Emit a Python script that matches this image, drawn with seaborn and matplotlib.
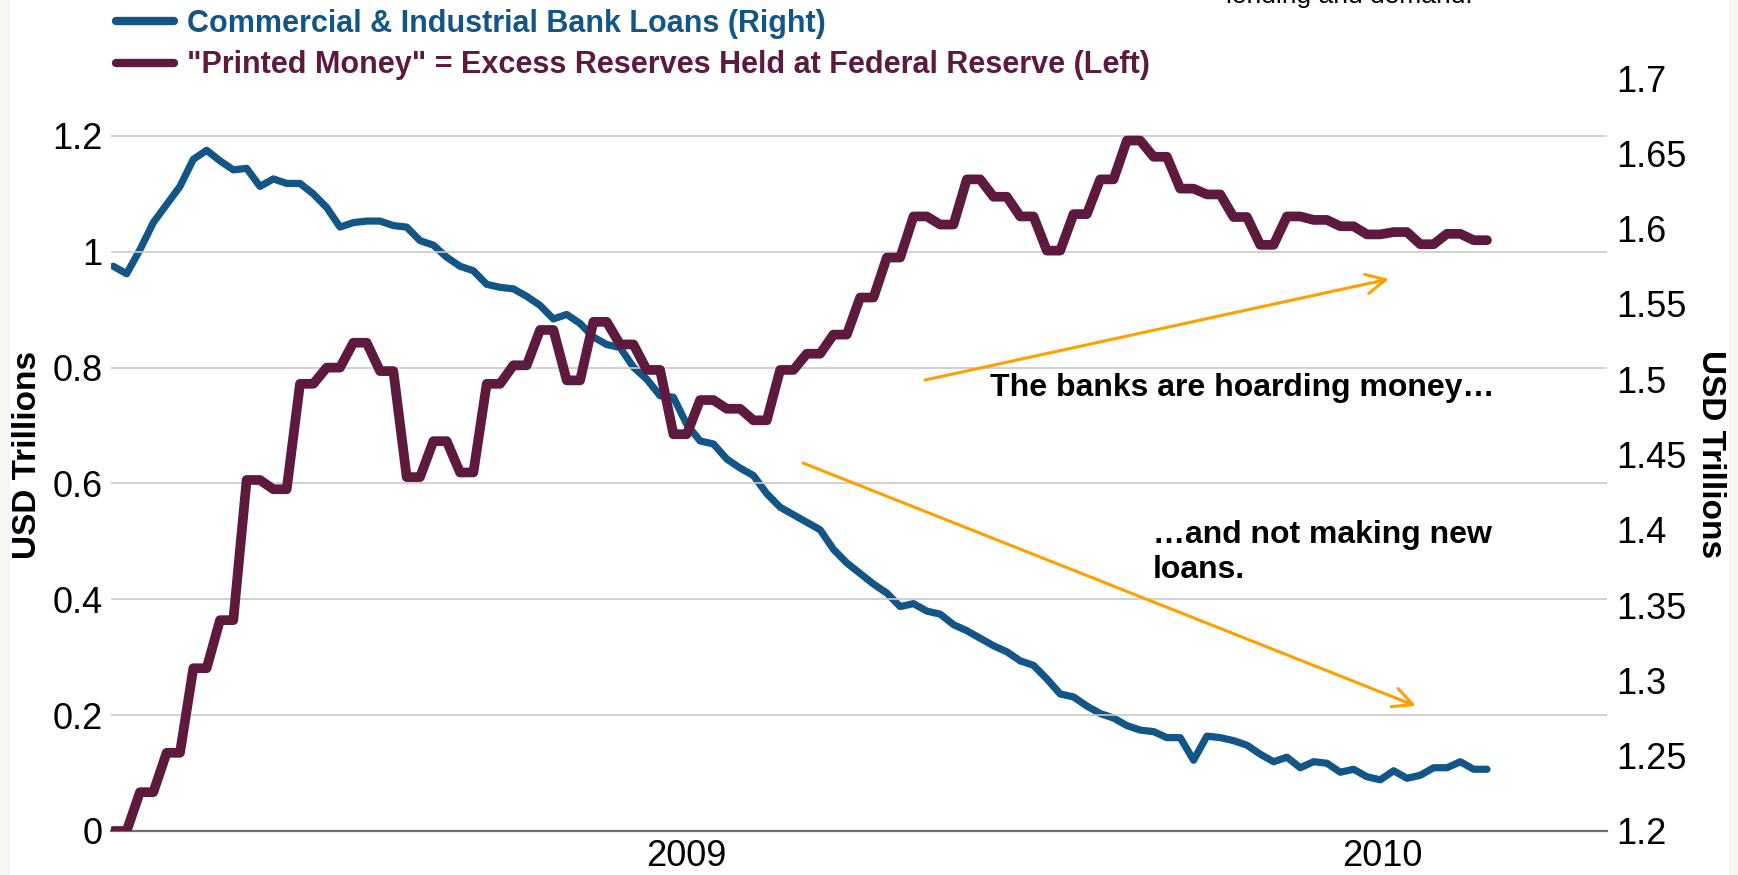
import matplotlib
matplotlib.use('Agg')
import matplotlib.pyplot as plt
import matplotlib.ticker as mticker
from matplotlib.lines import Line2D
from matplotlib.patches import Rectangle
import numpy as np
import pandas as pd
import seaborn as sb

# weekly observations, first one at 2008-03-06
startDate = '2008-03-06'
nWeeks = 104

# "Printed Money" = excess reserves, USD trillions (left axis)
excessReserves = [0.0, 0.0, 0.067, 0.067, 0.135, 0.135, 0.281, 0.281, 0.364, 0.364,
                  0.606, 0.606, 0.59, 0.59, 0.772, 0.772, 0.80, 0.80, 0.843, 0.843,
                  0.794, 0.794, 0.611, 0.611, 0.673, 0.673, 0.619, 0.619, 0.772, 0.772,
                  0.804, 0.804, 0.865, 0.865, 0.778, 0.778, 0.879, 0.879, 0.84, 0.84,
                  0.796, 0.796, 0.685, 0.685, 0.744, 0.744, 0.729, 0.729, 0.709, 0.709,
                  0.796, 0.796, 0.824, 0.824, 0.857, 0.857, 0.921, 0.921, 0.99, 0.99,
                  1.061, 1.061, 1.047, 1.047, 1.125, 1.125, 1.095, 1.095, 1.061, 1.061,
                  1.002, 1.002, 1.065, 1.065, 1.125, 1.125, 1.192, 1.192, 1.164, 1.164,
                  1.109, 1.109, 1.099, 1.099, 1.06, 1.06, 1.012, 1.012, 1.061, 1.061,
                  1.055, 1.055, 1.044, 1.044, 1.03, 1.03, 1.034, 1.034, 1.013, 1.013,
                  1.031, 1.031, 1.02, 1.02]

# commercial & industrial bank loans, USD trillions (right axis)
ciLoans = [1.575, 1.570, 1.586, 1.604, 1.616, 1.628, 1.646, 1.652, 1.645, 1.639,
           1.640, 1.628, 1.633, 1.630, 1.630, 1.623, 1.614, 1.601, 1.604, 1.605,
           1.605, 1.602, 1.601, 1.592, 1.589, 1.581, 1.575, 1.572, 1.563, 1.561,
           1.560, 1.555, 1.549, 1.540, 1.543, 1.537, 1.528, 1.523, 1.521, 1.508,
           1.500, 1.489, 1.488, 1.470, 1.459, 1.457, 1.447, 1.441, 1.436, 1.424,
           1.415, 1.410, 1.405, 1.400, 1.387, 1.378, 1.371, 1.364, 1.358, 1.349,
           1.351, 1.346, 1.344, 1.337, 1.333, 1.328, 1.323, 1.319, 1.313, 1.310,
           1.301, 1.291, 1.289, 1.283, 1.278, 1.275, 1.270, 1.267, 1.266, 1.262,
           1.262, 1.247, 1.263, 1.262, 1.260, 1.257, 1.251, 1.246, 1.249, 1.242,
           1.246, 1.245, 1.239, 1.241, 1.236, 1.234, 1.240, 1.235, 1.237, 1.242,
           1.242, 1.246, 1.241, 1.241]

yearTicks = ['2009-01-01', '2010-01-01']
yearLabels = ['2009', '2010']
leftTicks = [0, 0.2, 0.4, 0.6, 0.8, 1.0, 1.2]
rightTicks = [1.2, 1.25, 1.3, 1.35, 1.4, 1.45, 1.5, 1.55, 1.6, 1.65, 1.7]

blueLabel = 'Commercial & Industrial Bank Loans (Right)'
purpleLabel = '"Printed Money" = Excess Reserves Held at Federal Reserve (Left)'

blueColor = '#125688'
purpleColor = '#5E1A3E'
orangeColor = '#FFA000'

sb.set_style('white')
plt.rcParams['font.family'] = ['Liberation Sans', 'DejaVu Sans']
plt.rcParams['text.color'] = 'black'
plt.rcParams['axes.labelcolor'] = 'black'

dates = pd.date_range(startDate, periods=nWeeks, freq='7D')

fig = plt.figure(figsize=(17.38, 8.75), dpi=100)
fig.patch.set_facecolor('white')
fig.patches.append(Rectangle((0, 0), 9/1738, 1, transform=fig.transFigure, color='#F6F5F1', zorder=0))
fig.patches.append(Rectangle((1729/1738, 0), 9/1738, 1, transform=fig.transFigure, color='#F6F5F1', zorder=0))

ax = fig.add_axes([111/1738, 1 - 831/875, 1496/1738, 753/875])
ax2 = ax.twinx()

sb.lineplot(x=dates, y=excessReserves, ax=ax, color=purpleColor, linewidth=7,
            solid_joinstyle='round', solid_capstyle='round', zorder=3)
sb.lineplot(x=dates, y=ciLoans, ax=ax2, color=blueColor, linewidth=5.2,
            solid_joinstyle='round', solid_capstyle='round', zorder=3)

# draw the left axis (purple) above the right one
ax.set_zorder(ax2.get_zorder() + 1)
ax.patch.set_visible(False)

xStart = dates[0] - pd.Timedelta(days=1.2)
xEnd = dates[0] + pd.Timedelta(days=784)
ax.set_xlim(xStart, xEnd)

ax.set_ylim(0, 1.3)
ax2.set_ylim(1.2, 1.7)
ax.set_yticks(leftTicks)
ax2.set_yticks(rightTicks)
ax.yaxis.set_major_formatter(mticker.FormatStrFormatter('%g'))
ax2.yaxis.set_major_formatter(mticker.FormatStrFormatter('%g'))
ax.set_xticks(pd.to_datetime(yearTicks))
ax.set_xticklabels(yearLabels)

ax.grid(axis='y', color='#C9C9C9', linewidth=1.2)
ax.grid(axis='x', visible=False)
ax2.grid(False)

for a in [ax, ax2]:
    for side in ['top', 'left', 'right', 'bottom']:
        a.spines[side].set_visible(False)
ax.spines['bottom'].set_visible(True)
ax.spines['bottom'].set_color('#6E6E6E')
ax.spines['bottom'].set_linewidth(1.6)

ax.tick_params(axis='y', labelsize=26, length=0, pad=6, colors='black')
ax.tick_params(axis='x', labelsize=26, length=0, pad=6, colors='black')
ax2.tick_params(axis='y', labelsize=26, length=0, pad=7, colors='black')

ax.set_ylabel('USD Trillions', fontsize=24, fontweight='bold', va='center', color='black')
ax.yaxis.set_label_coords(-0.056, 0.5)
ax2.set_ylabel('USD Trillions', fontsize=24, fontweight='bold', rotation=270, va='center', color='black')
ax2.yaxis.set_label_coords(1.0695, 0.5)
ax.set_xlabel('')

# annotations
arrowProps = dict(arrowstyle='->,head_length=0.7,head_width=0.35', color=orangeColor,
                  lw=2.2, shrinkA=0, shrinkB=0, mutation_scale=20)
ax.annotate('', xy=(0.8543, 0.7331), xytext=(0.5441, 0.5989), xycoords='axes fraction',
            arrowprops=arrowProps)
ax.annotate('', xy=(0.8723, 0.1660), xytext=(0.4626, 0.4887), xycoords='axes fraction',
            arrowprops=arrowProps)
ax.text(0.5876, 0.5883, 'The banks are hoarding money\u2026', transform=ax.transAxes,
        fontsize=23, fontweight='bold', ha='left', va='center', color='black')
ax.text(0.6965, 0.3699, '\u2026and not making new\nloans.', transform=ax.transAxes,
        fontsize=23, fontweight='bold', ha='left', va='center', linespacing=1.2, color='black')

# legend at the top
handles = [Line2D([], [], color=blueColor, lw=6, solid_capstyle='round'),
           Line2D([], [], color=purpleColor, lw=6, solid_capstyle='round')]
fig.legend(handles, [blueLabel, purpleLabel], loc='upper left',
           bbox_to_anchor=(116/1738, 0.99), frameon=False, borderpad=0,
           borderaxespad=0, handlelength=1.9, handletextpad=0.42, labelspacing=0.38,
           labelcolor='linecolor', prop={'size': 22, 'weight': 'bold'})

# cut-off note from the page above the chart
fig.text(1226/1738, 1 - 3/875, 'lending and demand.', fontsize=19, ha='left',
         va='baseline', color='black')

fig.savefig('out.png', dpi=100)
